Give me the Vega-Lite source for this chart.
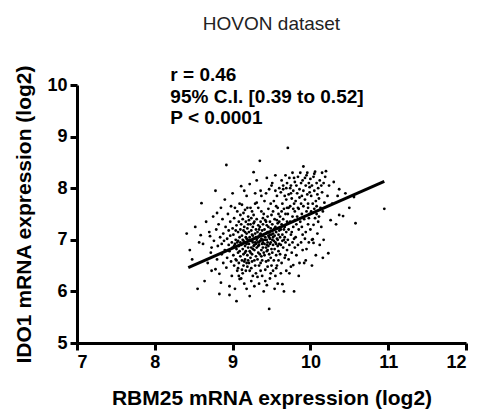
{
  "$schema": "https://vega.github.io/schema/vega-lite/v6.json",
  "autosize": {"type": "none"},
  "width": 389,
  "height": 258,
  "padding": {"left": 77, "top": 85, "right": 22, "bottom": 73},
  "background": "white",
  "title": {"text": "HOVON dataset", "fontSize": 19, "fontWeight": "normal", "font": "Liberation Sans", "color": "#222", "anchor": "middle", "offset": 31},
  "config": {"view": {"stroke": null},
    "axis": {"grid": false, "domainColor": "black", "domainWidth": 3, "tickColor": "black", "tickWidth": 3, "tickSize": 7,
             "labelFont": "Liberation Sans", "labelFontSize": 18, "labelFontWeight": "bold", "labelColor": "black", "labelPadding": 3,
             "titleFont": "Liberation Sans", "titleFontSize": 21, "titleFontWeight": "bold", "titleColor": "black"}},
  "resolve": {"axis": {"x": "independent", "y": "independent"}},
  "datasets": {
    "pts": [
      {"x":8.41,"y":7.12},{"x":8.45,"y":6.8},{"x":8.48,"y":6.62},{"x":8.52,"y":7.25},{"x":8.55,"y":6.05},{"x":8.57,"y":6.95},{"x":8.59,"y":7.09},{"x":8.6,"y":7.71},
      {"x":8.62,"y":6.92},{"x":8.64,"y":6.2},{"x":8.66,"y":7.35},{"x":8.68,"y":6.55},{"x":8.7,"y":7.15},{"x":8.71,"y":7.07},{"x":8.72,"y":6.75},{"x":8.73,"y":6.85},{"x":8.73,"y":6.4},{"x":8.75,"y":7.45},{"x":8.76,"y":6.98},{"x":8.78,"y":6.43},{"x":8.78,"y":7.95},{"x":8.79,"y":7.2},{"x":8.8,"y":6.62},{"x":8.8,"y":7.52},
      {"x":8.81,"y":6.88},{"x":8.82,"y":7.3},{"x":8.83,"y":6.34},{"x":8.83,"y":5.95},{"x":8.84,"y":7.05},{"x":8.85,"y":6.17},{"x":8.85,"y":7.62},{"x":8.86,"y":6.92},{"x":8.86,"y":6.72},{"x":8.87,"y":7.4},{"x":8.88,"y":6.55},{"x":8.88,"y":7.12},{"x":8.89,"y":6.98},{"x":8.9,"y":7.78},{"x":8.9,"y":6.8},{"x":8.91,"y":7.25},{"x":8.92,"y":6.46},{"x":8.92,"y":8.45},{"x":8.93,"y":7.02},{"x":8.93,"y":6.65},{"x":8.94,"y":7.5},{"x":8.95,"y":6.9},{"x":8.95,"y":7.18},{"x":8.96,"y":6.1},{"x":8.96,"y":5.93},{"x":8.96,"y":6.78},{"x":8.97,"y":7.35},{"x":8.97,"y":7.08},{"x":8.98,"y":6.58},{"x":8.98,"y":7.65},{"x":8.99,"y":6.95},{"x":8.99,"y":6.3},{"x":9.0,"y":7.22},{"x":9.0,"y":6.85},{"x":9.0,"y":7.9},
      {"x":9.01,"y":6.7},{"x":9.01,"y":7.1},{"x":9.02,"y":6.5},{"x":9.02,"y":7.42},{"x":9.03,"y":6.05},{"x":9.03,"y":6.92},{"x":9.04,"y":7.0},{"x":9.04,"y":6.62},{"x":9.05,"y":5.81},{"x":9.05,"y":7.28},{"x":9.05,"y":6.82},{"x":9.06,"y":7.55},{"x":9.06,"y":6.4},{"x":9.07,"y":6.98},{"x":9.07,"y":7.15},{"x":9.07,"y":6.75},{"x":9.08,"y":6.88},{"x":9.08,"y":7.35},{"x":9.08,"y":6.55},{"x":9.09,"y":6.24},{"x":9.09,"y":7.05},{"x":9.09,"y":7.7},{"x":9.1,"y":6.95},{"x":9.1,"y":6.68},{"x":9.1,"y":7.2},{"x":9.02,"y":6.88},{"x":9.04,"y":7.18},{"x":9.06,"y":6.95},{"x":9.08,"y":6.3},{"x":9.1,"y":7.48},{"x":9.03,"y":7.62},{"x":9.05,"y":6.6},{"x":9.07,"y":6.45},{"x":9.09,"y":6.78},{"x":9.11,"y":8.04},
      {"x":9.11,"y":6.9},{"x":9.11,"y":7.3},{"x":9.12,"y":6.6},{"x":9.12,"y":7.08},{"x":9.12,"y":6.42},{"x":9.13,"y":6.82},{"x":9.13,"y":7.4},{"x":9.13,"y":7.0},{"x":9.14,"y":6.72},{"x":9.14,"y":7.18},{"x":9.14,"y":6.5},{"x":9.15,"y":6.95},{"x":9.15,"y":7.25},{"x":9.15,"y":6.15},{"x":9.16,"y":6.88},{"x":9.16,"y":7.58},{"x":9.16,"y":6.62},{"x":9.17,"y":7.05},{"x":9.17,"y":6.78},{"x":9.17,"y":7.35},{"x":9.18,"y":6.05},{"x":9.18,"y":6.92},{"x":9.18,"y":7.12},{"x":9.18,"y":7.85},{"x":9.19,"y":6.7},{"x":9.19,"y":7.22},{"x":9.19,"y":6.48},{"x":9.2,"y":7.0},{"x":9.2,"y":6.85},{"x":9.2,"y":7.45},{"x":9.11,"y":6.25},{"x":9.12,"y":7.68},{"x":9.13,"y":6.35},{"x":9.14,"y":7.52},{"x":9.15,"y":6.58},{"x":9.16,"y":7.15},{"x":9.17,"y":6.4},{"x":9.18,"y":6.55},{"x":9.19,"y":7.62},{"x":9.2,"y":6.6},{"x":9.14,"y":6.98},{"x":9.16,"y":6.75},{"x":9.18,"y":7.02},{"x":9.2,"y":7.3},{"x":9.15,"y":7.95},
      {"x":9.21,"y":6.92},{"x":9.21,"y":7.15},{"x":9.21,"y":6.55},{"x":9.22,"y":5.91},{"x":9.22,"y":7.05},{"x":9.22,"y":6.78},{"x":9.22,"y":8.08},{"x":9.23,"y":7.3},{"x":9.23,"y":6.65},{"x":9.23,"y":6.98},{"x":9.24,"y":7.42},{"x":9.24,"y":6.85},{"x":9.24,"y":6.45},{"x":9.25,"y":7.1},{"x":9.25,"y":6.72},{"x":9.25,"y":7.55},{"x":9.26,"y":6.95},{"x":9.26,"y":6.3},{"x":9.26,"y":7.25},{"x":9.27,"y":8.31},{"x":9.27,"y":6.88},{"x":9.27,"y":7.02},{"x":9.28,"y":6.6},{"x":9.28,"y":7.35},{"x":9.28,"y":6.8},{"x":9.29,"y":7.12},{"x":9.29,"y":6.5},{"x":9.29,"y":7.7},{"x":9.3,"y":6.92},{"x":9.3,"y":7.2},{"x":9.3,"y":6.68},{"x":9.21,"y":7.38},{"x":9.22,"y":6.4},{"x":9.23,"y":7.62},{"x":9.24,"y":6.2},{"x":9.25,"y":6.98},{"x":9.26,"y":6.82},{"x":9.27,"y":7.48},{"x":9.28,"y":6.1},{"x":9.29,"y":6.95},{"x":9.3,"y":7.05},{"x":9.22,"y":7.0},{"x":9.24,"y":7.18},{"x":9.26,"y":7.08},{"x":9.28,"y":6.9},{"x":9.23,"y":6.75},{"x":9.25,"y":6.58},{"x":9.27,"y":7.32},{"x":9.29,"y":7.9},{"x":9.3,"y":6.35},
      {"x":9.31,"y":7.0},{"x":9.31,"y":6.85},{"x":9.31,"y":7.4},{"x":9.32,"y":6.62},{"x":9.32,"y":7.15},{"x":9.32,"y":6.95},{"x":9.33,"y":7.28},{"x":9.33,"y":6.75},{"x":9.33,"y":7.05},{"x":9.34,"y":6.5},{"x":9.34,"y":7.2},{"x":9.34,"y":6.9},{"x":9.35,"y":8.53},{"x":9.35,"y":7.1},{"x":9.35,"y":6.72},{"x":9.36,"y":7.35},{"x":9.36,"y":6.98},{"x":9.36,"y":6.4},{"x":9.37,"y":7.02},{"x":9.37,"y":6.8},{"x":9.37,"y":7.55},{"x":9.38,"y":6.92},{"x":9.38,"y":7.18},{"x":9.38,"y":6.6},{"x":9.39,"y":7.08},{"x":9.39,"y":6.85},{"x":9.39,"y":7.42},{"x":9.4,"y":6.0},{"x":9.4,"y":7.0},{"x":9.4,"y":6.75},{"x":9.31,"y":7.72},{"x":9.32,"y":6.28},{"x":9.33,"y":7.62},{"x":9.34,"y":6.15},{"x":9.35,"y":7.25},{"x":9.36,"y":6.55},{"x":9.37,"y":7.85},{"x":9.38,"y":6.3},{"x":9.39,"y":7.3},{"x":9.4,"y":7.5},{"x":9.32,"y":7.05},{"x":9.34,"y":6.95},{"x":9.36,"y":7.12},{"x":9.38,"y":7.0},{"x":9.33,"y":6.88},{"x":9.35,"y":6.98},{"x":9.37,"y":6.68},{"x":9.39,"y":6.95},{"x":9.31,"y":8.15},{"x":9.36,"y":7.95},
      {"x":9.41,"y":6.92},{"x":9.41,"y":7.2},{"x":9.41,"y":6.7},{"x":9.42,"y":6.2},{"x":9.42,"y":7.05},{"x":9.42,"y":7.38},{"x":9.43,"y":6.85},{"x":9.43,"y":7.12},{"x":9.43,"y":6.58},{"x":9.44,"y":7.0},{"x":9.44,"y":7.28},{"x":9.44,"y":6.78},{"x":9.45,"y":6.95},{"x":9.45,"y":7.45},{"x":9.45,"y":6.48},{"x":9.46,"y":7.08},{"x":9.46,"y":6.88},{"x":9.46,"y":7.6},{"x":9.47,"y":5.66},{"x":9.47,"y":7.15},{"x":9.47,"y":6.72},{"x":9.48,"y":7.02},{"x":9.48,"y":6.92},{"x":9.48,"y":7.35},{"x":9.49,"y":6.65},{"x":9.49,"y":7.22},{"x":9.49,"y":6.35},{"x":9.5,"y":7.1},{"x":9.5,"y":6.82},{"x":9.5,"y":7.48},{"x":9.41,"y":7.75},{"x":9.42,"y":6.42},{"x":9.43,"y":7.9},{"x":9.44,"y":6.12},{"x":9.45,"y":7.15},{"x":9.46,"y":6.6},{"x":9.47,"y":7.98},{"x":9.48,"y":6.25},{"x":9.49,"y":7.7},{"x":9.5,"y":6.5},{"x":9.42,"y":7.0},{"x":9.44,"y":6.9},{"x":9.46,"y":7.25},{"x":9.48,"y":7.1},{"x":9.43,"y":7.35},{"x":9.45,"y":6.8},{"x":9.47,"y":7.05},{"x":9.49,"y":6.95},{"x":9.44,"y":8.2},{"x":9.5,"y":8.05},
      {"x":9.51,"y":7.0},{"x":9.51,"y":7.3},{"x":9.51,"y":6.75},{"x":9.52,"y":7.12},{"x":9.52,"y":6.9},{"x":9.52,"y":7.55},{"x":9.53,"y":6.6},{"x":9.53,"y":7.2},{"x":9.53,"y":6.98},{"x":9.54,"y":7.4},{"x":9.54,"y":6.82},{"x":9.54,"y":7.08},{"x":9.55,"y":6.3},{"x":9.55,"y":7.25},{"x":9.55,"y":6.95},{"x":9.56,"y":7.65},{"x":9.56,"y":6.7},{"x":9.56,"y":7.15},{"x":9.57,"y":7.02},{"x":9.57,"y":6.5},{"x":9.57,"y":7.85},{"x":9.58,"y":6.88},{"x":9.58,"y":7.32},{"x":9.58,"y":6.15},{"x":9.59,"y":7.1},{"x":9.59,"y":6.78},{"x":9.59,"y":7.5},{"x":9.6,"y":6.92},{"x":9.6,"y":7.18},{"x":9.6,"y":8.0},{"x":9.51,"y":8.1},{"x":9.52,"y":6.4},{"x":9.53,"y":7.75},{"x":9.54,"y":6.05},{"x":9.55,"y":7.95},{"x":9.56,"y":6.45},{"x":9.57,"y":7.38},{"x":9.58,"y":7.62},{"x":9.59,"y":6.6},{"x":9.6,"y":7.35},{"x":9.52,"y":7.05},{"x":9.54,"y":7.22},{"x":9.56,"y":6.92},{"x":9.58,"y":7.0},{"x":9.55,"y":8.25},
      {"x":9.61,"y":7.05},{"x":9.61,"y":6.72},{"x":9.61,"y":7.45},{"x":9.62,"y":7.2},{"x":9.62,"y":6.9},{"x":9.62,"y":7.92},{"x":9.63,"y":6.55},{"x":9.63,"y":7.3},{"x":9.63,"y":8.15},{"x":9.64,"y":6.14},{"x":9.64,"y":7.1},{"x":9.64,"y":7.7},{"x":9.65,"y":6.85},{"x":9.65,"y":7.4},{"x":9.65,"y":8.05},{"x":9.66,"y":6.0},{"x":9.66,"y":7.0},{"x":9.66,"y":7.6},{"x":9.67,"y":6.65},{"x":9.67,"y":7.25},{"x":9.67,"y":7.85},{"x":9.68,"y":6.95},{"x":9.68,"y":7.5},{"x":9.68,"y":8.25},{"x":9.69,"y":6.4},{"x":9.69,"y":7.15},{"x":9.69,"y":7.78},{"x":9.7,"y":6.8},{"x":9.7,"y":7.35},{"x":9.7,"y":8.1},{"x":9.71,"y":8.78},{"x":9.62,"y":6.35},{"x":9.64,"y":6.98},{"x":9.66,"y":7.2},{"x":9.68,"y":6.7},{"x":9.7,"y":7.62},{"x":9.63,"y":7.55},{"x":9.65,"y":7.98},{"x":9.67,"y":7.05},{"x":9.69,"y":8.0},
      {"x":9.71,"y":7.0},{"x":9.71,"y":7.5},{"x":9.72,"y":6.62},{"x":9.72,"y":7.88},{"x":9.72,"y":7.2},{"x":9.73,"y":8.2},{"x":9.73,"y":6.9},{"x":9.74,"y":7.65},{"x":9.74,"y":7.35},{"x":9.75,"y":6.48},{"x":9.75,"y":8.05},{"x":9.75,"y":7.1},{"x":9.76,"y":7.8},{"x":9.76,"y":6.75},{"x":9.77,"y":7.45},{"x":9.77,"y":8.3},{"x":9.78,"y":6.51},{"x":9.78,"y":7.95},{"x":9.78,"y":7.25},{"x":9.79,"y":6.0},{"x":9.79,"y":7.7},{"x":9.79,"y":7.02},{"x":9.8,"y":7.55},{"x":9.8,"y":8.12},{"x":9.8,"y":6.85},{"x":9.72,"y":7.62},{"x":9.74,"y":8.0},{"x":9.76,"y":7.15},{"x":9.78,"y":7.6},{"x":9.73,"y":6.35},{"x":9.77,"y":6.95},{"x":9.8,"y":7.38},{"x":9.75,"y":7.9},{"x":9.79,"y":8.2},
      {"x":9.81,"y":7.75},{"x":9.81,"y":7.05},{"x":9.82,"y":8.05},{"x":9.82,"y":6.7},{"x":9.83,"y":7.45},{"x":9.83,"y":7.9},{"x":9.84,"y":6.9},{"x":9.84,"y":8.22},{"x":9.85,"y":7.6},{"x":9.85,"y":7.2},{"x":9.86,"y":6.55},{"x":9.86,"y":7.98},{"x":9.87,"y":7.35},{"x":9.87,"y":8.3},{"x":9.88,"y":7.7},{"x":9.88,"y":6.95},{"x":9.89,"y":7.85},{"x":9.89,"y":7.5},{"x":9.9,"y":8.15},{"x":9.9,"y":7.1},{"x":9.82,"y":7.3},{"x":9.84,"y":7.62},{"x":9.86,"y":7.82},{"x":9.88,"y":8.1},{"x":9.9,"y":6.8},{"x":9.85,"y":6.3},{"x":9.89,"y":7.25},{"x":9.91,"y":8.42},
      {"x":9.91,"y":7.65},{"x":9.91,"y":7.95},{"x":9.92,"y":6.55},{"x":9.92,"y":7.4},{"x":9.93,"y":8.2},{"x":9.93,"y":7.78},{"x":9.94,"y":7.15},{"x":9.94,"y":8.05},{"x":9.95,"y":6.82},{"x":9.95,"y":7.55},{"x":9.96,"y":7.88},{"x":9.96,"y":8.3},{"x":9.97,"y":7.3},{"x":9.97,"y":7.7},{"x":9.98,"y":8.1},{"x":9.98,"y":6.95},{"x":9.99,"y":7.5},{"x":9.99,"y":7.92},{"x":10.0,"y":7.2},{"x":10.0,"y":8.18},{"x":9.93,"y":7.02},{"x":9.95,"y":8.25},{"x":9.97,"y":7.62},{"x":9.99,"y":8.02},{"x":9.94,"y":6.6},{"x":9.98,"y":7.42},
      {"x":10.01,"y":7.85},{"x":10.01,"y":7.55},{"x":10.02,"y":8.05},{"x":10.02,"y":7.0},{"x":10.03,"y":7.01},{"x":10.03,"y":7.7},{"x":10.04,"y":7.29},{"x":10.04,"y":6.94},{"x":10.04,"y":8.22},{"x":10.05,"y":7.6},{"x":10.05,"y":7.95},{"x":10.06,"y":7.42},{"x":10.06,"y":8.32},{"x":10.07,"y":7.75},{"x":10.07,"y":6.7},{"x":10.08,"y":8.1},{"x":10.08,"y":7.5},{"x":10.09,"y":7.12},{"x":10.09,"y":7.88},{"x":10.1,"y":8.0},{"x":10.1,"y":7.35},{"x":10.02,"y":6.5},{"x":10.05,"y":8.28},{"x":10.08,"y":7.65},
      {"x":10.11,"y":7.8},{"x":10.11,"y":7.45},{"x":10.12,"y":8.15},{"x":10.12,"y":6.9},{"x":10.13,"y":7.62},{"x":10.14,"y":8.05},{"x":10.14,"y":7.25},{"x":10.15,"y":7.92},{"x":10.15,"y":8.3},{"x":10.16,"y":7.55},{"x":10.17,"y":7.0},{"x":10.17,"y":8.1},{"x":10.18,"y":7.72},{"x":10.19,"y":8.22},{"x":10.2,"y":8.33},{"x":10.16,"y":6.65},
      {"x":10.22,"y":7.85},{"x":10.23,"y":6.74},{"x":10.24,"y":8.05},{"x":10.26,"y":7.38},{"x":10.28,"y":7.7},{"x":10.3,"y":8.12},{"x":10.33,"y":7.3},{"x":10.35,"y":7.85},{"x":10.37,"y":7.98},{"x":10.37,"y":7.48},{"x":10.42,"y":7.46},{"x":10.45,"y":7.9},{"x":10.5,"y":7.62},{"x":10.56,"y":7.83},{"x":10.58,"y":7.32},{"x":10.95,"y":7.6}
    ],
    "fit": [{"x": 8.43, "y": 6.46}, {"x": 10.95, "y": 8.13}],
    "notes": [
      {"x": 8.2, "y": 10.19, "label": "r = 0.46"},
      {"x": 8.2, "y": 9.77, "label": "95% C.I. [0.39 to 0.52]"},
      {"x": 8.2, "y": 9.36, "label": "P < 0.0001"}
    ]
  },
  "layer": [
    {"data": {"name": "pts"}, "mark": {"type": "circle", "size": 8, "color": "black", "opacity": 1},
     "encoding": {
       "x": {"field": "x", "type": "quantitative", "scale": {"domain": [7, 12], "nice": false, "zero": false},
             "axis": {"values": [7, 8, 9, 10, 11, 12], "title": "RBM25 mRNA expression (log2)", "titlePadding": 16, "orient": "bottom",
                      "labelFontSize": 18, "labelFontWeight": "bold", "domainWidth": 3, "domainColor": "black", "tickWidth": 3, "tickSize": 7}},
       "y": {"field": "y", "type": "quantitative", "scale": {"domain": [5, 10], "nice": false, "zero": false},
             "axis": {"values": [5, 6, 7, 8, 9, 10], "title": "IDO1 mRNA expression (log2)", "titlePadding": 12, "orient": "left",
                      "labelFontSize": 18, "labelFontWeight": "bold", "domainWidth": 3, "domainColor": "black", "tickWidth": 3, "tickSize": 7}}
     }},
    {"data": {"name": "fit"}, "mark": {"type": "line", "color": "black", "strokeWidth": 3},
     "encoding": {
       "x": {"field": "x", "type": "quantitative", "axis": null},
       "y": {"field": "y", "type": "quantitative", "axis": null}
     }},
    {"data": {"name": "notes"}, "mark": {"type": "text", "align": "left", "baseline": "middle", "font": "Liberation Sans", "fontSize": 19, "fontWeight": "bold", "color": "black"},
     "encoding": {
       "x": {"field": "x", "type": "quantitative", "axis": null},
       "y": {"field": "y", "type": "quantitative", "axis": null},
       "text": {"field": "label", "type": "nominal"}
     }}
  ]
}
